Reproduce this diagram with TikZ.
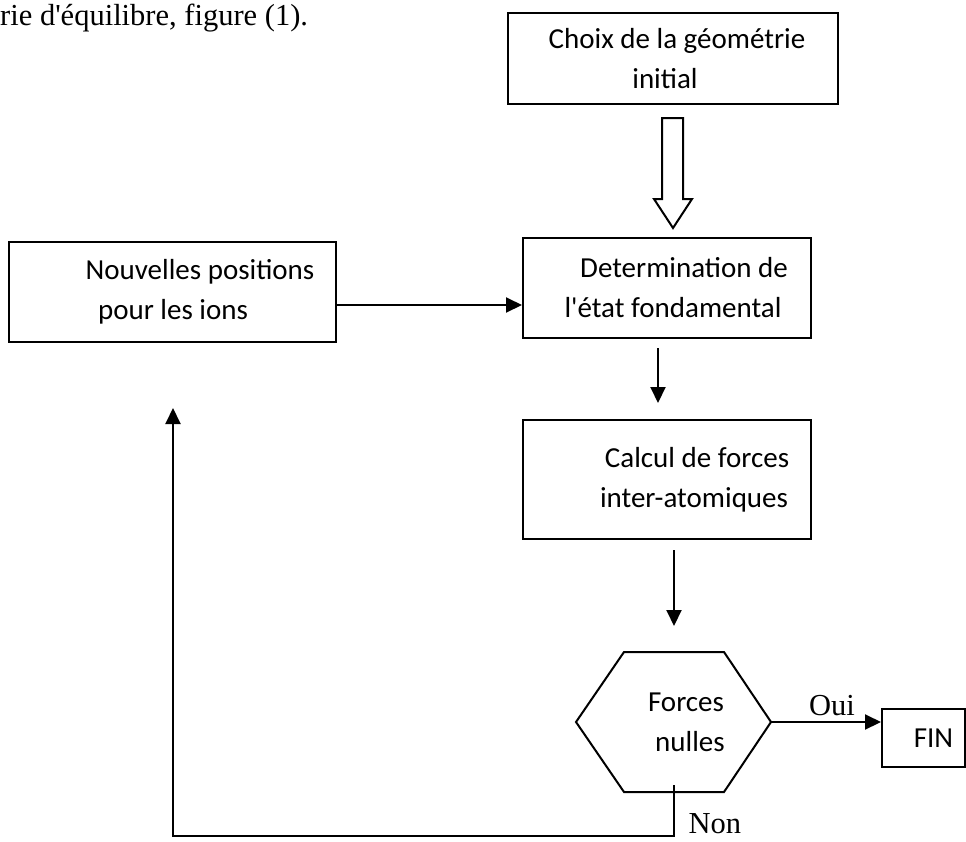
\documentclass[tikz,border=0pt]{standalone}
\usepackage{fontspec}
\setmainfont{Carlito}
\newfontfamily\tnr{Liberation Serif}
\usetikzlibrary{positioning, arrows.meta}

\tikzset{
  bloc/.style={draw, line width=2pt, inner sep=0pt, align=center,
    font=\fontsize{29pt}{40pt}\selectfont},
  fleche/.style={line width=2pt, -{Triangle[length=16pt, width=15pt]}},
  etiq/.style={font=\tnr\fontsize{30.5pt}{36pt}\selectfont},
}

\begin{document}
\begin{tikzpicture}[x=1pt, y=-1pt]
\useasboundingbox (0,0) rectangle (966,841);
\node[etiq, anchor=base west, inner sep=0pt] (titre) at (0,25)
    {rie d'équilibre, figure (1).};

\node[bloc, minimum width=330pt, minimum height=91pt] (choix) at (673,58.5)
    {\hspace*{8pt}Choix de la géométrie\\\hspace*{-16pt}initial};
\node[bloc, minimum width=288pt, minimum height=100pt] (deter) at (667,288)
    {\hspace*{34pt}Determination de\\\hspace*{12pt}l\textquotesingle état fondamental};
\node[bloc, minimum width=288pt, minimum height=119pt, below=80pt of deter] (calcul)
    {\hspace*{60pt}Calcul de forces\\\hspace*{54pt}inter-atomiques};
\node[bloc, minimum width=327pt, minimum height=100pt, left=185pt of deter, yshift=-4pt] (nouv)
    {\hspace*{55pt}Nouvelles positions\\\hspace*{1pt}pour les ions};
\node[bloc, draw=none, minimum width=193pt, minimum height=138pt] (test) at (673.5,722)
    {\hspace*{25pt}Forces\\\hspace*{33pt}nulles};
\node[bloc, minimum width=83pt, minimum height=58pt] (fin) at (923.5,738)
    {\hspace*{20pt}FIN};
\coordinate (retour) at (173,408);

% hexagone du test
\draw[line width=2pt] (test.west) -- ([xshift=48pt]test.north west)
    -- ([xshift=-47pt]test.north east) -- (test.east)
    -- ([xshift=-47pt]test.south east) -- ([xshift=48pt]test.south west) -- cycle;

% fleche creuse
\draw[line width=2pt] ([shift={(-11,13)}]choix.south) -- ++(0,81) -- ++(-8,0)
    -- ++(19,29) -- ++(19,-29) -- ++(-9,0) -- ++(0,-81) -- cycle;

\draw[fleche] ([yshift=-13pt]nouv.east) -- ([yshift=-13pt]nouv.east -| deter.west);
\draw[fleche] ([shift={(-9,9)}]deter.south) -- ++(0,55);
\draw[fleche] ([shift={(7,10)}]calcul.south) -- ++(0,76);
\draw[fleche] (test.east) -- (test.east -| fin.west)
    node[etiq, midway, above, xshift=6pt, yshift=2pt] {Oui};
\draw[fleche] ([yshift=-63pt]test.center) -- ++(0,51)
    node[etiq, right, inner sep=0pt, xshift=14pt, yshift=12pt] {Non} -| (retour);
\end{tikzpicture}
\end{document}
